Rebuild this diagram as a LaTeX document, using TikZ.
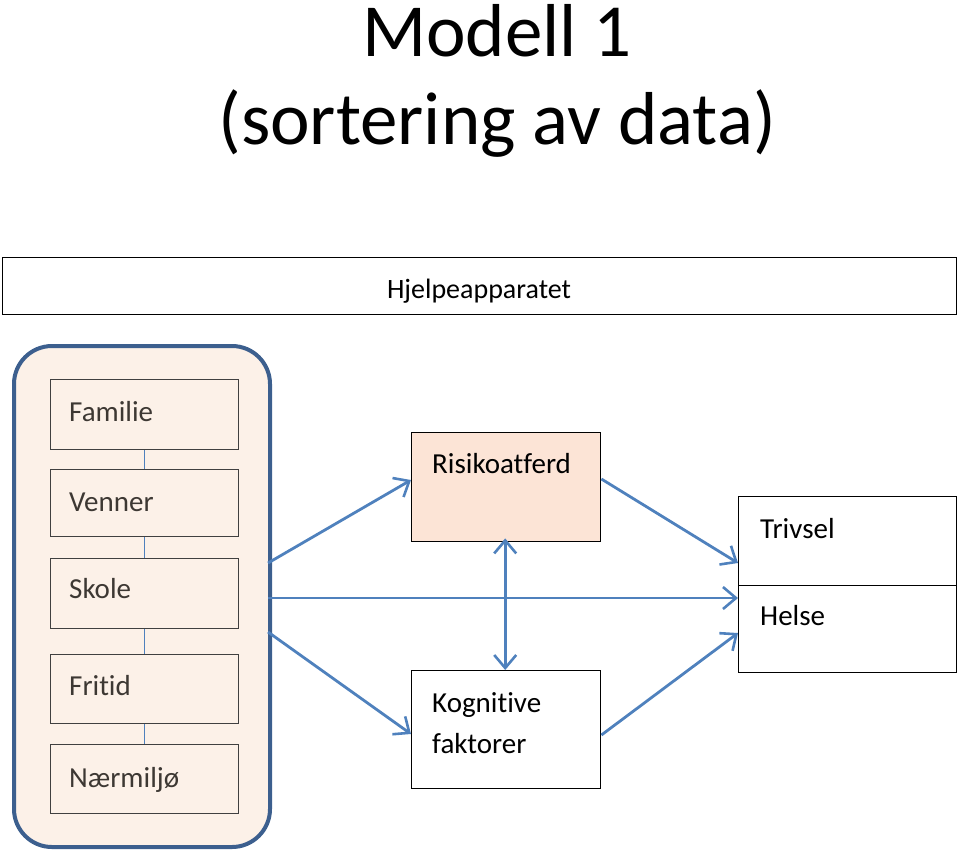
\documentclass[tikz,border=0pt]{standalone}
\usepackage{fontspec}
\setmainfont{Carlito}[Ligatures=CommonOff]
\usetikzlibrary{arrows.meta}
\definecolor{peach}{HTML}{FCF1E8}
\definecolor{peachdark}{HTML}{FCE4D6}
\definecolor{frameblue}{HTML}{3C5F8E}
\definecolor{arrowblue}{HTML}{4F81BD}
\definecolor{txtgray}{HTML}{3D3833}
\tikzset{
  box/.style={draw=black, line width=1.4pt, rectangle, inner sep=0pt},
  ibox/.style={draw=black!75, line width=1.2pt, fill=peach, rectangle, inner sep=0pt, minimum width=188pt, anchor=north west},
  lbl/.style={anchor=base west, inner sep=0pt, font=\fontsize{29}{34}\selectfont},
  arr/.style={draw=arrowblue, line width=2.8pt, -{Straight Barb[length=13pt,width=22pt,line width=2.6pt]}},
  darr/.style={draw=arrowblue, line width=2.8pt, {Straight Barb[length=13pt,width=22pt,line width=2.6pt]}-{Straight Barb[length=13pt,width=22pt,line width=2.6pt]}},
  link/.style={draw=arrowblue, line width=1pt}
}
\begin{document}
\begin{tikzpicture}[x=1pt,y=-1pt]
\useasboundingbox (0,0) rectangle (960,849);
% title
\node[anchor=base, inner sep=0pt, font=\fontsize{75}{90}\selectfont] (t1) at (497,56) {Modell 1};
\node[anchor=base, inner sep=0pt, font=\fontsize{75}{90}\selectfont] (t2) at (497,144) {(sortering av data)};
% Hjelpeapparatet
\node[box, minimum width=954pt, minimum height=57pt, anchor=north west] (hj) at (2,257) {};
\node[anchor=base, inner sep=0pt, font=\fontsize{28}{34}\selectfont] (hjt) at (479,298) {Hjelpeapparatet};
% big rounded frame
\node[draw=frameblue, line width=4pt, fill=peach, rounded corners=38pt, minimum width=256pt, minimum height=501pt, anchor=north west, inner sep=0pt] (frame) at (12,344) {};
% inner boxes
\node[ibox, minimum height=70pt] (fam) at (50,379) {};
\node[ibox, minimum height=67pt] (ven) at (50,469) {};
\node[ibox, minimum height=70pt] (sko) at (50,558) {};
\node[ibox, minimum height=69pt] (fri) at (50,654) {};
\node[ibox, minimum height=69pt] (nae) at (50,744) {};
\draw[link] (fam.south) -- (ven.north);
\draw[link] (ven.south) -- (sko.north);
\draw[link] (sko.south) -- (fri.north);
\draw[link] (fri.south) -- (nae.north);
\node[lbl, text=txtgray] (famt) at (69,421) {Familie};
\node[lbl, text=txtgray] (vent) at (69,511) {Venner};
\node[lbl, text=txtgray] (skot) at (69,598) {Skole};
\node[lbl, text=txtgray] (frit) at (69,695) {Fritid};
\node[lbl, text=txtgray] (naet) at (69,787) {Nærmiljø};
% middle boxes
\node[box, fill=peachdark, minimum width=189pt, minimum height=109pt, anchor=north west] (ris) at (411,432) {};
\node[lbl] (rist) at (432,473) {Risikoatferd};
\node[box, fill=white, minimum width=189pt, minimum height=118pt, anchor=north west] (kog) at (411,670) {};
\node[lbl] (kogt1) at (432,712) {Kognitive};
\node[lbl] (kogt2) at (432,753) {faktorer};
% right boxes
\node[box, minimum width=218pt, minimum height=89pt, anchor=north west] (tri) at (738,496) {};
\node[box, minimum width=218pt, minimum height=87pt, anchor=north west] (hel) at (738,585) {};
\node[lbl] (trit) at (760,538) {Trivsel};
\node[lbl] (helt) at (760,625) {Helse};
% arrows
\coordinate (s1) at (268,563);
\coordinate (s2) at (268,598);
\coordinate (s3) at (268,632);
\draw[arr] (s1) -- (ris.west |- 0,480);
\draw[arr] (s2) -- (hel.west |- 0,598);
\draw[arr] (s3) -- (kog.west |- 0,734);
\draw[arr] (ris.east |- 0,479) -- (tri.west |- 0,563);
\draw[arr] (kog.east |- 0,735) -- (hel.west |- 0,633);
\draw[darr] ([xshift=-1pt,yshift=4pt]ris.south) -- ([xshift=-1pt]kog.north);
\end{tikzpicture}
\end{document}
